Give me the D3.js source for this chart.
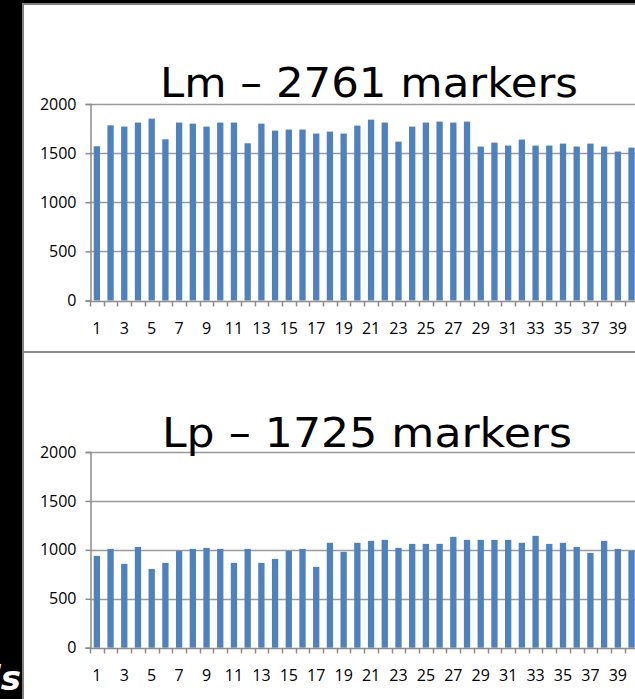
<!DOCTYPE html>
<html><head><meta charset="utf-8">
<script src="https://cdn.jsdelivr.net/npm/d3@7"></script>
<style>html,body{margin:0;padding:0;background:#000;overflow:hidden}</style>
</head><body>
<script>
const categories = d3.range(1, 41);
const tickLabels = categories.filter(d => d % 2 === 1);
const yTicks = [0, 500, 1000, 1500, 2000];
const lmValues = [1570,1783,1770,1811,1851,1641,1811,1800,1770,1811,1811,1600,1800,1729,1740,1740,1699,1719,1699,1780,
                  1841,1811,1617,1770,1811,1821,1811,1821,1567,1607,1577,1638,1577,1577,1597,1567,1597,1567,1516,1556];
const lpValues = [938,1010,857,1030,805,867,990,1010,1020,1010,867,1010,867,908,990,1010,826,1072,980,1072,
                  1092,1102,1020,1061,1061,1061,1133,1102,1102,1102,1102,1072,1143,1061,1072,1030,969,1092,1010,990];
const titles = ["Lm \u2013 2761 markers", "Lp \u2013 1725 markers"];

const W = 635, H = 699;
const svg = d3.select("body").append("svg").attr("width", W).attr("height", H);
svg.append("rect").attr("width", W).attr("height", H).attr("fill", "#000");
svg.append("rect").attr("x", 22).attr("y", 3).attr("width", W - 22).attr("height", H - 3).attr("fill", "#808080");
svg.append("rect").attr("x", 24).attr("y", 5).attr("width", W - 24).attr("height", H - 5).attr("fill", "#fff");
svg.append("rect").attr("x", 24).attr("y", 351).attr("width", W - 24).attr("height", 2).attr("fill", "#8c8c8c");

// cut-off slide text at bottom left
svg.append("text").attr("x", 21).attr("y", 690).attr("text-anchor", "end")
  .attr("font-family", "DejaVu Sans").attr("font-weight", "bold").attr("font-style", "italic")
  .attr("font-size", 34).attr("fill", "#fff").text("is");

const x = d3.scaleBand().domain(categories).range([90, 90 + 40 * 13.71])
  .paddingInner(0.54).paddingOuter(0.27);

function drawChart(values, title, y0, y2000, titleY, titleX0, titleX1, labelY) {
  const g = svg.append("g");
  const y = d3.scaleLinear().domain([0, 2000]).range([y0, y2000]);
  g.selectAll(".grid").data(yTicks.slice(1)).join("line")
    .attr("x1", 90).attr("x2", W).attr("y1", d => Math.round(y(d)) + 0.5).attr("y2", d => Math.round(y(d)) + 0.5)
    .attr("stroke", "#9a9a9a").attr("stroke-width", 1.5);
  g.selectAll(".bar").data(values).join("rect")
    .attr("x", (d, i) => x(categories[i])).attr("width", x.bandwidth())
    .attr("y", d => y(d)).attr("height", d => y(0) - y(d)).attr("fill", "#4f81bd");
  const ya = d3.axisLeft(y).tickValues(yTicks).tickSize(5).tickPadding(9).tickFormat(d3.format("d"));
  const yg = g.append("g").attr("transform", "translate(90.5,0)").call(ya);
  const xa = d3.axisBottom(x).tickSize(0).tickPadding(0)
    .tickValues(tickLabels).tickFormat(d => d);
  const xg = g.append("g").attr("transform", `translate(0,${Math.round(y0) + 0.5})`).call(xa);
  xg.selectAll("text").attr("dy", null).attr("y", labelY - Math.round(y0));
  xg.select(".domain").attr("d", `M90,0H${W}`);
  xg.selectAll(".btick").data(d3.range(0, 41)).join("line")
    .attr("x1", i => Math.round(90 + i * x.step()) + 0.5).attr("x2", i => Math.round(90 + i * x.step()) + 0.5)
    .attr("y1", 0).attr("y2", 5).attr("stroke", "#8c8c8c").attr("stroke-width", 1.5);
  [yg, xg].forEach(a => {
    a.selectAll(".domain").attr("stroke", "#8c8c8c").attr("stroke-width", 1.5);
    a.selectAll(".tick line").attr("stroke", "#8c8c8c").attr("stroke-width", 1.5);
    a.selectAll("text").attr("font-family", "Open Sans").attr("font-size", 16).attr("fill", "#000");
  });
  g.append("text").attr("x", titleX0).attr("y", titleY)
    .attr("textLength", titleX1 - titleX0).attr("lengthAdjust", "spacingAndGlyphs")
    .attr("font-family", "DejaVu Sans").attr("font-size", 40).attr("fill", "#000").text(title);
}

drawChart(lmValues, titles[0], 300.5, 104, 97, 160, 578, 333);
drawChart(lpValues, titles[1], 647.7, 452, 447, 162, 572, 680);
</script>
</body></html>
